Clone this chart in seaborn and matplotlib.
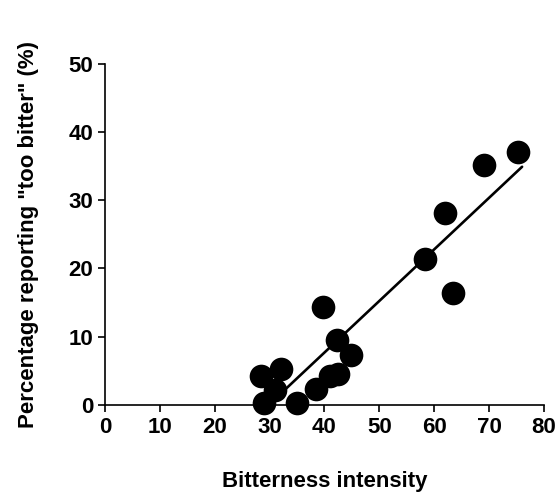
import numpy as np
import pandas as pd
import matplotlib.pyplot as plt
import seaborn as sns

# Values
intensity = [29.0, 28.5, 32.0, 31.0, 35.0, 38.4, 41.0, 42.5, 39.8, 42.3, 44.9,
             58.3, 61.9, 63.4, 69.1, 75.3]
pct_too_bitter = [0.3, 4.3, 5.2, 2.2, 0.3, 2.4, 4.2, 4.6, 14.4, 9.5, 7.3,
                  21.4, 28.1, 16.4, 35.1, 37.1]
fit_range = [33, 76]

x_ticks = [0, 10, 20, 30, 40, 50, 60, 70, 80]
y_ticks = [0, 10, 20, 30, 40, 50]

df = pd.DataFrame({"x": intensity, "y": pct_too_bitter})

# straight-line fit through the points
slope, intercept = np.polyfit(df["x"], df["y"], 1)
fit = pd.DataFrame({"x": np.linspace(fit_range[0], fit_range[1], 50)})
fit["y"] = intercept + slope * fit["x"]

sns.set_style("ticks")
plt.rcParams["font.family"] = ["Liberation Sans", "DejaVu Sans"]
plt.rcParams["font.weight"] = "bold"
plt.rcParams["text.color"] = "black"
plt.rcParams["axes.labelcolor"] = "black"

fig = plt.figure(figsize=(5.58, 4.95), dpi=100)
ax = fig.add_axes([0.188, 0.182, 0.787, 0.689])

sns.lineplot(data=fit, x="x", y="y", color="black", linewidth=1.9, ax=ax, zorder=2)
sns.scatterplot(data=df, x="x", y="y", color="black", s=290, edgecolor="black",
                linewidth=0, ax=ax, zorder=3, clip_on=False)

ax.set_xlim(0, 80)
ax.set_ylim(0, 50)
ax.set_xticks(x_ticks)
ax.set_yticks(y_ticks)
ax.tick_params(labelsize=16, width=1.2, length=5, direction="out",
               colors="black", labelcolor="black")
for lab in ax.get_xticklabels() + ax.get_yticklabels():
    lab.set_fontweight("bold")

ax.set_xlabel("Bitterness intensity", fontsize=16, fontweight="bold", labelpad=24)
ax.set_ylabel('Percentage reporting "too bitter" (%)', fontsize=16,
              fontweight="bold", labelpad=21)

sns.despine(ax=ax)
for s in ["left", "bottom"]:
    ax.spines[s].set_linewidth(1.2)
    ax.spines[s].set_color("black")

fig.savefig("out.png", dpi=100)
